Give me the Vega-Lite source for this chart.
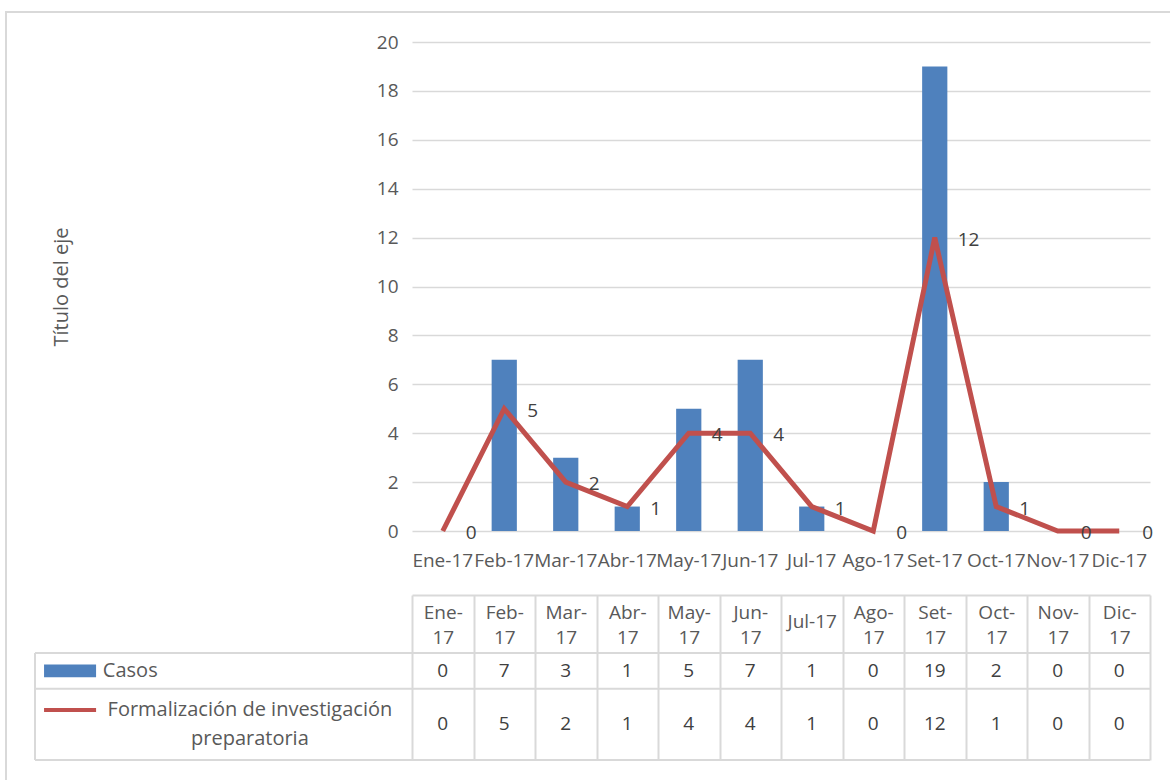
{
  "$schema": "https://vega.github.io/schema/vega-lite/v6.json",
  "width": 738,
  "height": 489,
  "autosize": "none",
  "padding": {"left": 412, "top": 42, "right": 20, "bottom": 249},
  "background": "white",
  "config": {"font": "Open Sans", "view": {"stroke": null}},
  "datasets": {
    "meses": [
      {"mes": "Ene-17", "casos": 0, "formalizacion": 0},
      {"mes": "Feb-17", "casos": 7, "formalizacion": 5},
      {"mes": "Mar-17", "casos": 3, "formalizacion": 2},
      {"mes": "Abr-17", "casos": 1, "formalizacion": 1},
      {"mes": "May-17", "casos": 5, "formalizacion": 4},
      {"mes": "Jun-17", "casos": 7, "formalizacion": 4},
      {"mes": "Jul-17", "casos": 1, "formalizacion": 1},
      {"mes": "Ago-17", "casos": 0, "formalizacion": 0},
      {"mes": "Set-17", "casos": 19, "formalizacion": 12},
      {"mes": "Oct-17", "casos": 2, "formalizacion": 1},
      {"mes": "Nov-17", "casos": 0, "formalizacion": 0},
      {"mes": "Dic-17", "casos": 0, "formalizacion": 0}
    ],
    "series": [
      {"serie": "Casos", "etiqueta": "Casos"},
      {"serie": "Formalización de investigación preparatoria", "etiqueta": ["Formalización de investigación", "preparatoria"]}
    ]
  },
  "layer": [
    {
      "data": {"name": "meses"},
      "encoding": {
        "x": {
          "field": "mes", "type": "nominal", "sort": null,
          "scale": {"type": "band", "domain": ["Ene-17","Feb-17","Mar-17","Abr-17","May-17","Jun-17","Jul-17","Ago-17","Set-17","Oct-17","Nov-17","Dic-17"], "paddingInner": 0.59, "paddingOuter": 0.295},
          "axis": {"orient": "bottom", "title": null, "domain": false, "ticks": false, "grid": false, "labelAngle": 0, "labelFontSize": 19, "labelColor": "#595959", "labelPadding": 20, "labelOverlap": false, "labelBound": false, "labelFlush": false}
        }
      },
      "layer": [
        {
          "mark": {"type": "bar", "color": "#4F81BD"},
          "encoding": {
            "y": {
              "field": "casos", "type": "quantitative", "title": "Título del eje",
              "scale": {"domain": [0, 20], "nice": false},
              "axis": {"values": [0,2,4,6,8,10,12,14,16,18,20], "grid": true, "gridColor": "#d9d9d9", "gridWidth": 1.5, "domain": false, "ticks": false, "labelFontSize": 19, "labelColor": "#595959", "labelPadding": 14, "titleFontSize": 20, "titleFontWeight": "normal", "titleColor": "#595959", "titleX": -351, "titleY": 244.5, "titleAngle": -90, "titleAlign": "center", "titleBaseline": "middle"}
            }
          }
        },
        {
          "mark": {"type": "line", "color": "#C0504D", "strokeWidth": 5},
          "encoding": {"y": {"field": "formalizacion", "type": "quantitative", "title": "Título del eje"}}
        },
        {
          "mark": {"type": "text", "align": "left", "baseline": "middle", "dx": 23, "dy": 2, "fontSize": 19, "color": "#404040"},
          "encoding": {
            "y": {"field": "formalizacion", "type": "quantitative", "title": "Título del eje"},
            "text": {"field": "formalizacion", "type": "quantitative"}
          }
        }
      ]
    },
    {
      "layer": [
        {
          "data": {"name": "meses"},
          "encoding": {
            "x": {
              "field": "mes", "type": "nominal", "sort": null,
              "scale": {"type": "band", "domain": ["Ene-17","Feb-17","Mar-17","Abr-17","May-17","Jun-17","Jul-17","Ago-17","Set-17","Oct-17","Nov-17","Dic-17"], "paddingInner": 0, "paddingOuter": 0},
              "axis": {"orient": "bottom", "offset": 64, "title": null, "grid": false, "domain": true, "domainColor": "#d9d9d9", "domainWidth": 2, "ticks": true, "tickBand": "extent", "tickSize": 165, "tickColor": "#d9d9d9", "tickWidth": 2, "labelAngle": 0, "labelFontSize": 19, "labelColor": "#595959", "labelPadding": -148, "labelLineHeight": 25, "labelOverlap": false, "labelBound": false, "labelFlush": false,
                "labelBaseline": {"condition": {"test": "datum.value == 'Jul-17'", "value": "top"}, "value": "middle"},
                "labelExpr": "indexof(datum.label, '-') < 0 || datum.label == 'Jul-17' ? datum.label : [split(datum.label, '-')[0] + '-', split(datum.label, '-')[1]]"}
            }
          },
          "layer": [
            {
              "mark": {"type": "text", "fontSize": 19, "color": "#404040", "baseline": "middle"},
              "encoding": {
                "y": {"datum": "Casos", "type": "nominal", "scale": {"type": "band", "domain": ["Casos", "Formalización de investigación preparatoria"], "range": [611, 718], "paddingInner": 0, "paddingOuter": 0.5, "align": 0}, "axis": null},
                "text": {"field": "casos", "type": "quantitative"}
              }
            },
            {
              "mark": {"type": "text", "fontSize": 19, "color": "#404040", "baseline": "middle"},
              "encoding": {
                "y": {"datum": "Formalización de investigación preparatoria", "type": "nominal", "bandPosition": 1},
                "text": {"field": "formalizacion", "type": "quantitative"}
              }
            }
          ]
        },
        {
          "data": {"values": [{}]},
          "layer": [
            {"mark": {"type": "rule", "color": "#d9d9d9", "strokeWidth": 2}, "encoding": {"y": {"datum": "Casos", "type": "nominal", "bandPosition": 0}}},
            {"mark": {"type": "rule", "color": "#d9d9d9", "strokeWidth": 2}, "encoding": {"y": {"datum": "Formalización de investigación preparatoria", "type": "nominal", "bandPosition": 0}}},
            {"mark": {"type": "rule", "color": "#d9d9d9", "strokeWidth": 2}, "encoding": {"y": {"datum": "Formalización de investigación preparatoria", "type": "nominal", "bandPosition": 2}}}
          ]
        },
        {
          "layer": [
            {
              "data": {"values": [{}]},
              "layer": [
                {"mark": {"type": "rule", "color": "#d9d9d9", "strokeWidth": 2}, "encoding": {"x": {"datum": 0, "type": "quantitative", "scale": {"domain": [0, 100], "range": [-377, 0]}, "axis": null}, "x2": {"datum": 100}, "y": {"datum": "Casos", "type": "nominal", "bandPosition": 0}}},
                {"mark": {"type": "rule", "color": "#d9d9d9", "strokeWidth": 2}, "encoding": {"x": {"datum": 0, "type": "quantitative"}, "x2": {"datum": 100}, "y": {"datum": "Formalización de investigación preparatoria", "type": "nominal", "bandPosition": 0}}},
                {"mark": {"type": "rule", "color": "#d9d9d9", "strokeWidth": 2}, "encoding": {"x": {"datum": 0, "type": "quantitative"}, "x2": {"datum": 100}, "y": {"datum": "Formalización de investigación preparatoria", "type": "nominal", "bandPosition": 2}}},
                {"mark": {"type": "rule", "color": "#d9d9d9", "strokeWidth": 2}, "encoding": {"x": {"datum": 0, "type": "quantitative"}, "y": {"datum": "Casos", "type": "nominal", "bandPosition": 0}, "y2": {"datum": "Formalización de investigación preparatoria", "bandPosition": 2}}},
                {"mark": {"type": "bar", "color": "#4F81BD", "height": {"band": 0.36}}, "encoding": {"x": {"datum": 2.4, "type": "quantitative"}, "x2": {"datum": 16.2}, "y": {"datum": "Casos", "type": "nominal"}}},
                {"mark": {"type": "rule", "color": "#C0504D", "strokeWidth": 4}, "encoding": {"x": {"datum": 2.4, "type": "quantitative"}, "x2": {"datum": 16.2}, "y": {"datum": "Formalización de investigación preparatoria", "type": "nominal", "bandPosition": 0.6}}}
              ]
            },
            {
              "data": {"name": "series"},
              "transform": [{"filter": "datum.serie == 'Casos'"}],
              "mark": {"type": "text", "align": "left", "baseline": "middle", "fontSize": 20, "color": "#595959"},
              "encoding": {"x": {"datum": 18.0, "type": "quantitative"}, "y": {"field": "serie", "type": "nominal"}, "text": {"field": "etiqueta"}}
            },
            {
              "data": {"name": "series"},
              "transform": [{"filter": "datum.serie != 'Casos'"}],
              "mark": {"type": "text", "align": "center", "baseline": "middle", "fontSize": 20, "lineHeight": 29, "color": "#595959"},
              "encoding": {"x": {"datum": 57, "type": "quantitative"}, "y": {"field": "serie", "type": "nominal", "bandPosition": 0.6}, "text": {"field": "etiqueta"}}
            }
          ]
        }
      ],
      "resolve": {"scale": {"x": "independent"}}
    },
    {
      "data": {"values": [{}]},
      "mark": {"type": "rect", "filled": false, "color": "#d9d9d9", "strokeWidth": 2},
      "encoding": {
        "x": {"datum": 0, "type": "quantitative", "scale": {"domain": [0, 1], "range": [-406, 800]}, "axis": null},
        "x2": {"datum": 1},
        "y": {"datum": 0, "type": "quantitative", "scale": {"domain": [0, 1], "range": [-30, 800]}, "axis": null},
        "y2": {"datum": 1}
      }
    }
  ],
  "resolve": {"scale": {"x": "independent", "y": "independent"}}
}
